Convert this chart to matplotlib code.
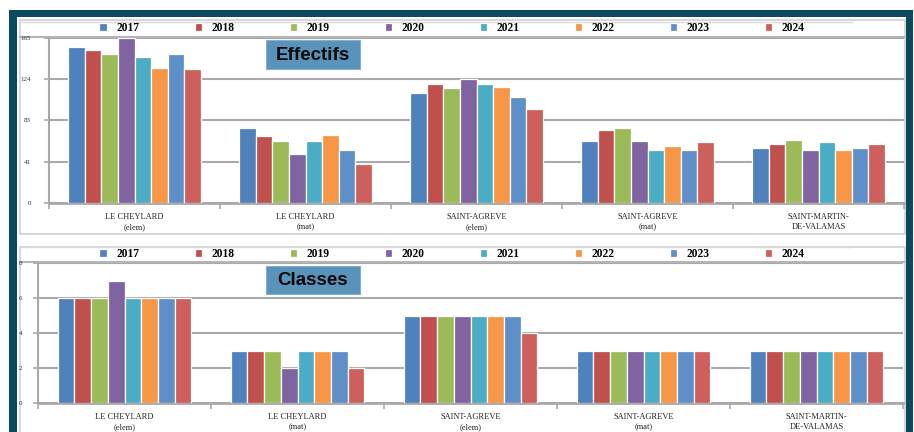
import matplotlib
matplotlib.use('Agg')
import matplotlib.pyplot as plt
from matplotlib.patches import Rectangle
from matplotlib.lines import Line2D
import numpy as np

W, H = 914, 432

categories = ["LE CHEYLARD\n(elem)", "LE CHEYLARD\n(mat)", "SAINT-AGREVE\n(elem)",
              "SAINT-AGREVE\n(mat)", "SAINT-MARTIN-\nDE-VALAMAS"]
years = ["2017", "2018", "2019", "2020", "2021", "2022", "2023", "2024"]
colors = ["#4f81bd", "#c0504d", "#9bbb59", "#8064a2", "#4bacc6", "#f79646", "#5f8fc8", "#cd5f5c"]

eff_2017 = [156, 75, 110, 62, 55]
eff_2018 = [153, 67, 119, 73, 59]
eff_2019 = [149, 62, 115, 75, 63]
eff_2020 = [165, 49, 124, 62, 53]
eff_2021 = [146, 62, 119, 53, 61]
eff_2022 = [135, 68, 116, 57, 53]
eff_2023 = [149, 53, 106, 53, 55]
eff_2024 = [134, 39, 94, 61, 59]

cls_2017 = [6, 3, 5, 3, 3]
cls_2018 = [6, 3, 5, 3, 3]
cls_2019 = [6, 3, 5, 3, 3]
cls_2020 = [7, 2, 5, 3, 3]
cls_2021 = [6, 3, 5, 3, 3]
cls_2022 = [6, 3, 5, 3, 3]
cls_2023 = [6, 3, 5, 3, 3]
cls_2024 = [6, 2, 4, 3, 3]

eff_ticks = [0, 41, 83, 124, 165]
cls_ticks = [0, 2, 4, 6, 8]

effectifs = [eff_2017, eff_2018, eff_2019, eff_2020, eff_2021, eff_2022, eff_2023, eff_2024]
classes = [cls_2017, cls_2018, cls_2019, cls_2020, cls_2021, cls_2022, cls_2023, cls_2024]

fig = plt.figure(figsize=(W / 100, H / 100), dpi=100)
fig.patch.set_facecolor('white')


def fx(x):
    return x / W


def fy(y):
    return 1 - y / H


def add_rect(x0, y0, x1, y1, **kw):
    r = Rectangle((fx(x0), fy(y1)), (x1 - x0) / W, (y1 - y0) / H,
                  transform=fig.transFigure, **kw)
    fig.patches.append(r)
    return r


def add_hline(y, x0, x1, **kw):
    fig.lines.append(Line2D([fx(x0), fx(x1)], [fy(y), fy(y)],
                            transform=fig.transFigure, **kw))


# frame
add_rect(9, 10, 913, 450, facecolor='#0b4a5e', edgecolor='none', zorder=-5)
add_rect(17, 17, 906, 450, facecolor='white', edgecolor='none', zorder=-4)
# panels
add_rect(19.5, 20, 904.5, 233.5, facecolor='none', edgecolor='#cfcfcf', lw=1.2, zorder=-3)
add_rect(19.5, 247, 904.5, 450, facecolor='none', edgecolor='#cfcfcf', lw=1.2, zorder=-3)

grid_col = '#a9a9a9'
serif = 'Liberation Serif'


def make_chart(left, top, right, bottom, data, ticks, legend_y, line_y, title, title_box, label_gap):
    ax = fig.add_axes([fx(left), fy(bottom), (right - left) / W, (bottom - top) / H])
    ax.set_facecolor('none')
    n = len(years)
    slot = 0.0965
    x = np.arange(len(categories))
    handles = []
    for j, (yr, vals, c) in enumerate(zip(years, data, colors)):
        b = ax.bar(x + (j - (n - 1) / 2) * slot, vals, width=slot, color=c,
                   edgecolor='white', linewidth=0.9, label=yr, zorder=3)
        handles.append(b)
    ax.set_xlim(-0.5, len(categories) - 0.5)
    ax.set_ylim(ticks[0], ticks[-1])
    ax.set_yticks(ticks)
    ax.set_yticklabels([str(t) for t in ticks], fontsize=5, family=serif, color='#333333')
    ax.set_xticks(x)
    ax.set_xticklabels(categories, fontsize=6.0, family=serif, color='#222222', linespacing=1.4)
    ax.tick_params(axis='x', length=0, pad=7)
    ax.set_xticks(np.arange(len(categories) + 1) - 0.5, minor=True)
    ax.tick_params(axis='x', which='minor', length=4, width=1.2, color=grid_col, direction='out')
    ax.tick_params(axis='y', length=3.6, width=1.2, color=grid_col,
                   pad=(label_gap - 5) * 0.72)
    ax.yaxis.grid(True, color=grid_col, lw=1.5, zorder=0)
    ax.set_axisbelow(True)
    for s in ['top', 'right']:
        ax.spines[s].set_visible(False)
    ax.spines['left'].set_color(grid_col)
    ax.spines['left'].set_linewidth(1.5)
    ax.spines['bottom'].set_color(grid_col)
    ax.spines['bottom'].set_linewidth(2)
    ax.legend(handles=handles, labels=years, ncol=8, loc='center',
              bbox_to_anchor=(fx(452), fy(legend_y)), bbox_transform=fig.transFigure,
              frameon=False, handlelength=0.65, handleheight=0.65, handletextpad=0.8,
              columnspacing=4.8, prop=dict(family=serif, weight='bold', size=8.3))
    add_hline(line_y - 15, 20, 852, color='#d9d9d9', lw=1.0, zorder=-2)
    add_hline(line_y, 20, 904, color='#b5b5b5', lw=1.5, zorder=-2)
    # title box
    x0, y0, x1, y1 = title_box
    add_rect(x0, y0, x1, y1, facecolor='#5b92b9', edgecolor='#7fb0d0', lw=0.8, zorder=5)
    fig.text(fx((x0 + x1) / 2), fy((y0 + y1) / 2 + 0.5), title, ha='center', va='center',
             fontsize=13.5, family='Liberation Sans', weight='bold', color='#0a0a0a', zorder=6)
    return ax


make_chart(49, 38, 904, 203, effectifs, eff_ticks, 28, 37, 'Effectifs', (266, 40, 360, 69), 18)
make_chart(38, 263, 903, 403, classes, cls_ticks, 254, 262, 'Classes', (266, 266, 360, 294), 16)

fig.savefig('out.png', dpi=100)
